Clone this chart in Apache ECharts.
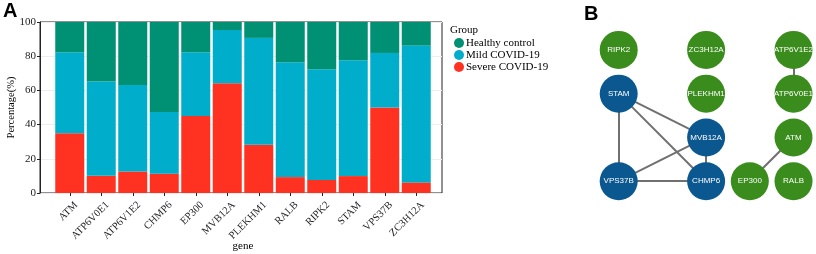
<!DOCTYPE html>
<html>
<head>
<meta charset="utf-8">
<script src="https://cdn.jsdelivr.net/npm/echarts@6/dist/echarts.min.js"></script>
<style>html,body{margin:0;padding:0;background:#fff}#c{width:816px;height:254px}</style>
</head>
<body>
<div id="c"></div>
<script>
// ---- Panel A data ----
const genes = ['ATM','ATP6V0E1','ATP6V1E2','CHMP6','EP300','MVB12A','PLEKHM1','RALB','RIPK2','STAM','VPS37B','ZC3H12A'];
const severe = [35.0, 10.1, 12.6, 11.3, 45.1, 64.2, 28.2, 9.3, 7.6, 9.9, 50.0, 6.2];
const mild = [47.3, 55.1, 50.6, 36.0, 37.2, 31.1, 62.5, 67.2, 64.8, 67.7, 31.9, 80.0];
const healthy = [17.7, 34.8, 36.8, 52.7, 17.7, 4.7, 9.3, 23.5, 27.6, 22.4, 18.1, 13.8];
const groupNames = ['Healthy control','Mild COVID-19','Severe COVID-19'];
const yTicks = [0, 20, 40, 60, 80, 100];

// ---- Panel B data (layout units: column, row) ----
const nodeNames = ['RIPK2','ZC3H12A','ATP6V1E2','STAM','PLEKHM1','ATP6V0E1','MVB12A','ATM','VPS37B','CHMP6','EP300','RALB'];
const nodeCol = [0, 1, 2, 0, 1, 2, 1, 2, 0, 1, 1.5, 2];
const nodeRow = [0, 0, 0, 1, 1, 1, 2, 2, 3, 3, 3, 3];
const nodeCluster = [0, 0, 0, 1, 0, 0, 1, 0, 1, 1, 0, 0];
const edgeSource = ['STAM','STAM','STAM','MVB12A','MVB12A','VPS37B','ATP6V1E2','ATM'];
const edgeTarget = ['VPS37B','MVB12A','CHMP6','VPS37B','CHMP6','CHMP6','ATP6V0E1','EP300'];

const C_GREEN = '#009174', C_BLUE = '#00AECB', C_RED = '#FF3222';
const serif = '"Liberation Serif","DejaVu Serif",serif';
const sans = '"Liberation Sans",Arial,sans-serif';

const chart = echarts.init(document.getElementById('c'), null, {renderer: 'canvas'});
const opt = {
  animation: false,
  backgroundColor: '#fff',
  title: [
    {text: 'A', left: 3, top: 1, padding: 0, textStyle: {fontFamily: sans, fontWeight: 'bold', fontSize: 20, color: '#000'}},
    {text: 'B', left: 584, top: 4, padding: 0, textStyle: {fontFamily: sans, fontWeight: 'bold', fontSize: 20, color: '#000'}},
    {text: 'Group', left: 450, top: 25, padding: 0, textStyle: {fontFamily: serif, fontWeight: 'normal', fontSize: 11, color: '#000'}}
  ],
  legend: {
    orient: 'vertical', left: 454, top: 37, padding: 0, itemGap: 0, itemWidth: 10, itemHeight: 10,
    icon: 'circle', data: groupNames,
    textStyle: {fontFamily: serif, fontSize: 11, color: '#000', lineHeight: 12, padding: [0,0,0,-3]}
  },
  grid: [
    {left: 54, right: 384, top: 22, bottom: 61, outerBoundsMode: 'none', containLabel: false},
    {left: 40, right: 374, top: 22, bottom: 61, show: true, borderColor: '#222', borderWidth: 1, outerBoundsMode: 'none', containLabel: false},
    {left: 575, right: 5, top: 28, bottom: 29, outerBoundsMode: 'none', containLabel: false}
  ],
  xAxis: [
    {gridIndex: 0, type: 'category', data: genes, boundaryGap: true,
     name: 'gene', nameLocation: 'middle', nameGap: 48, nameMoveOverlap: false,
     nameTextStyle: {fontFamily: serif, fontSize: 11, color: '#000', verticalAlign: 'top'},
     axisLine: {show: false},
     axisTick: {show: true, alignWithLabel: true, length: 3, lineStyle: {color: '#222'}},
     axisLabel: {rotate: 45, fontFamily: serif, fontSize: 10.5, color: '#222', margin: 4, interval: 0,
       lineHeight: 18, formatter: v => '\n' + v}},
    {gridIndex: 1, type: 'value', min: 0, max: 1, show: false},
    {gridIndex: 2, type: 'value', min: -0.5, max: 2.2, show: false}
  ],
  yAxis: [
    {gridIndex: 0, type: 'value', min: 0, max: 100, show: false},
    {gridIndex: 1, type: 'value', min: 0, max: 100, interval: 20,
     name: 'Percentage(%)', nameLocation: 'middle', nameGap: 23, nameMoveOverlap: false,
     nameTextStyle: {fontFamily: serif, fontSize: 10.5, color: '#000'},
     axisLine: {show: true, lineStyle: {color: '#222'}},
     axisTick: {show: true, length: 3, lineStyle: {color: '#222'}},
     axisLabel: {fontFamily: serif, fontSize: 11, color: '#222', margin: 4,
       formatter: v => yTicks.includes(v) ? String(v) : ''},
     splitLine: {show: true, lineStyle: {color: '#eeeeee', width: 1}}},
    {gridIndex: 2, type: 'value', min: -0.5, max: 4, inverse: true, show: false}
  ],
  series: [
    {name: 'Severe COVID-19', type: 'bar', stack: 'g', xAxisIndex: 0, yAxisIndex: 0, barWidth: 29,
     itemStyle: {color: C_RED}, data: severe},
    {name: 'Mild COVID-19', type: 'bar', stack: 'g', xAxisIndex: 0, yAxisIndex: 0, barWidth: 29,
     itemStyle: {color: C_BLUE}, data: mild},
    {name: 'Healthy control', type: 'bar', stack: 'g', xAxisIndex: 0, yAxisIndex: 0, barWidth: 29,
     itemStyle: {color: C_GREEN}, data: healthy},
    {type: 'graph', coordinateSystem: 'cartesian2d', xAxisIndex: 2, yAxisIndex: 2,
     symbolSize: 38, z: 5,
     categories: [{name: 'a', itemStyle: {color: '#3a8c1c'}}, {name: 'b', itemStyle: {color: '#0b5890'}}],
     label: {show: true, position: 'inside', color: '#fff', fontFamily: sans, fontSize: 8},
     lineStyle: {color: '#707070', width: 2, opacity: 1, curveness: 0},
     data: nodeNames.map((n, i) => ({name: n, value: [nodeCol[i], nodeRow[i]], category: nodeCluster[i]})),
     links: edgeSource.map((s, i) => ({source: s, target: edgeTarget[i]}))}
  ]
};
chart.setOption(opt);
</script>
</body>
</html>
